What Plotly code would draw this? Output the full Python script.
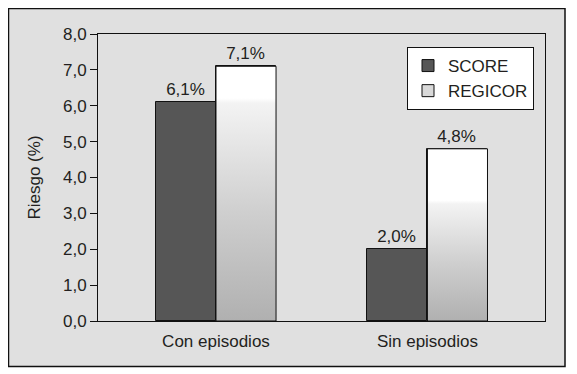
import plotly.graph_objects as go

# ---- data ----
categories = ["Con episodios", "Sin episodios"]
score = [6.1, 2.0]
regicor = [7.1, 4.8]
series_names = ["SCORE", "REGICOR"]
y_ticks = [0, 1, 2, 3, 4, 5, 6, 7, 8]

# ---- style ----
BAR_W = 0.284
SCORE_COLOR = "#565656"
TEXT_COLOR = "#231f20"
FONT = "Liberation Sans, Arial, sans-serif"
white_frac = [0.855, 0.68]  # fraction of bar height where gradient turns white

x_pos = list(range(len(categories)))

fig = go.Figure()

fig.add_trace(go.Bar(
    x=x_pos, y=score, width=BAR_W, offset=-BAR_W, name=series_names[0],
    marker=dict(color=SCORE_COLOR, line=dict(color="#111111", width=1)),
    texttemplate="%{y:.1f}%", textposition="outside",
    textfont=dict(size=17, color=TEXT_COLOR, family=FONT),
    cliponaxis=False,
))

fig.add_trace(go.Bar(
    x=x_pos, y=regicor, width=BAR_W, offset=0, name=series_names[1],
    marker=dict(color="#d9d9d9", line=dict(color="#111111", width=1)),
    texttemplate="%{y:.1f}%", textposition="outside",
    textfont=dict(size=17, color=TEXT_COLOR, family=FONT),
    cliponaxis=False,
))

# gradient fill on top of REGICOR bars
for i, (c, v) in enumerate(zip(x_pos, regicor)):
    wf = white_frac[i]
    fig.add_trace(go.Scatter(
        x=[c, c, c + BAR_W, c + BAR_W, c],
        y=[0, v, v, 0, 0],
        mode="lines", fill="toself",
        line=dict(color="#111111", width=1),
        fillgradient=dict(
            type="vertical",
            colorscale=[[0, "#b0b0b0"], [wf * 0.5, "#cfcfcf"], [wf, "#f3f3f3"],
                        [min(wf + 0.02, 1), "#ffffff"], [1, "#ffffff"]],
        ),
        showlegend=False, hoverinfo="skip",
    ))

# figure is offset by 8px in the page; work in screen px then subtract
OFF = 8
FW, FH = 577 - OFF, 374 - OFF
L, R, T, B = 98 - OFF, 545 - OFF, 34 - OFF, 321 - OFF
W, H = R - L, B - T
def px(xs): return (xs - OFF - L) / W
def py(ys): return (B - (ys - OFF)) / H

fig.add_shape(type="rect", xref="paper", yref="paper",
              x0=px(8.5), x1=px(565), y0=py(366.5), y1=py(8.5),
              fillcolor="#e0e0e0", line=dict(color="#111111", width=1.5),
              layer="below")

fig.update_layout(
    width=FW, height=FH,
    margin=dict(l=L, r=FW - R, t=T, b=FH - B),
    paper_bgcolor="white", plot_bgcolor="white",
    separators=",.",
    font=dict(family=FONT, size=17, color=TEXT_COLOR),
    showlegend=True,
    legend=dict(x=px(407), y=py(47), xanchor="left", yanchor="top",
                bgcolor="white", bordercolor="#111111", borderwidth=1,
                font=dict(size=17, color=TEXT_COLOR, family=FONT),
                traceorder="normal"),
    bargap=0, barmode="overlay",
)

fig.update_xaxes(
    range=[-0.558, 1.556], tickmode="array", tickvals=[c for c in x_pos],
    ticktext=categories, ticks="", showgrid=False, zeroline=False,
    showline=True, linecolor="#111111", linewidth=1, mirror=True,
    ticklabelstandoff=5,
    tickfont=dict(size=17, color=TEXT_COLOR, family=FONT),
)
fig.update_yaxes(
    range=[0, 8], tickmode="array", tickvals=y_ticks, tickformat=".1f",
    ticks="outside", ticklen=7, tickwidth=1, tickcolor="#111111",
    showgrid=False, zeroline=False,
    showline=True, linecolor="#111111", linewidth=1, mirror=True,
    title=dict(text="Riesgo (%)", standoff=18, font=dict(size=17, color=TEXT_COLOR, family=FONT)),
    tickfont=dict(size=17, color=TEXT_COLOR, family=FONT),
)

fig.write_html("out.html")
